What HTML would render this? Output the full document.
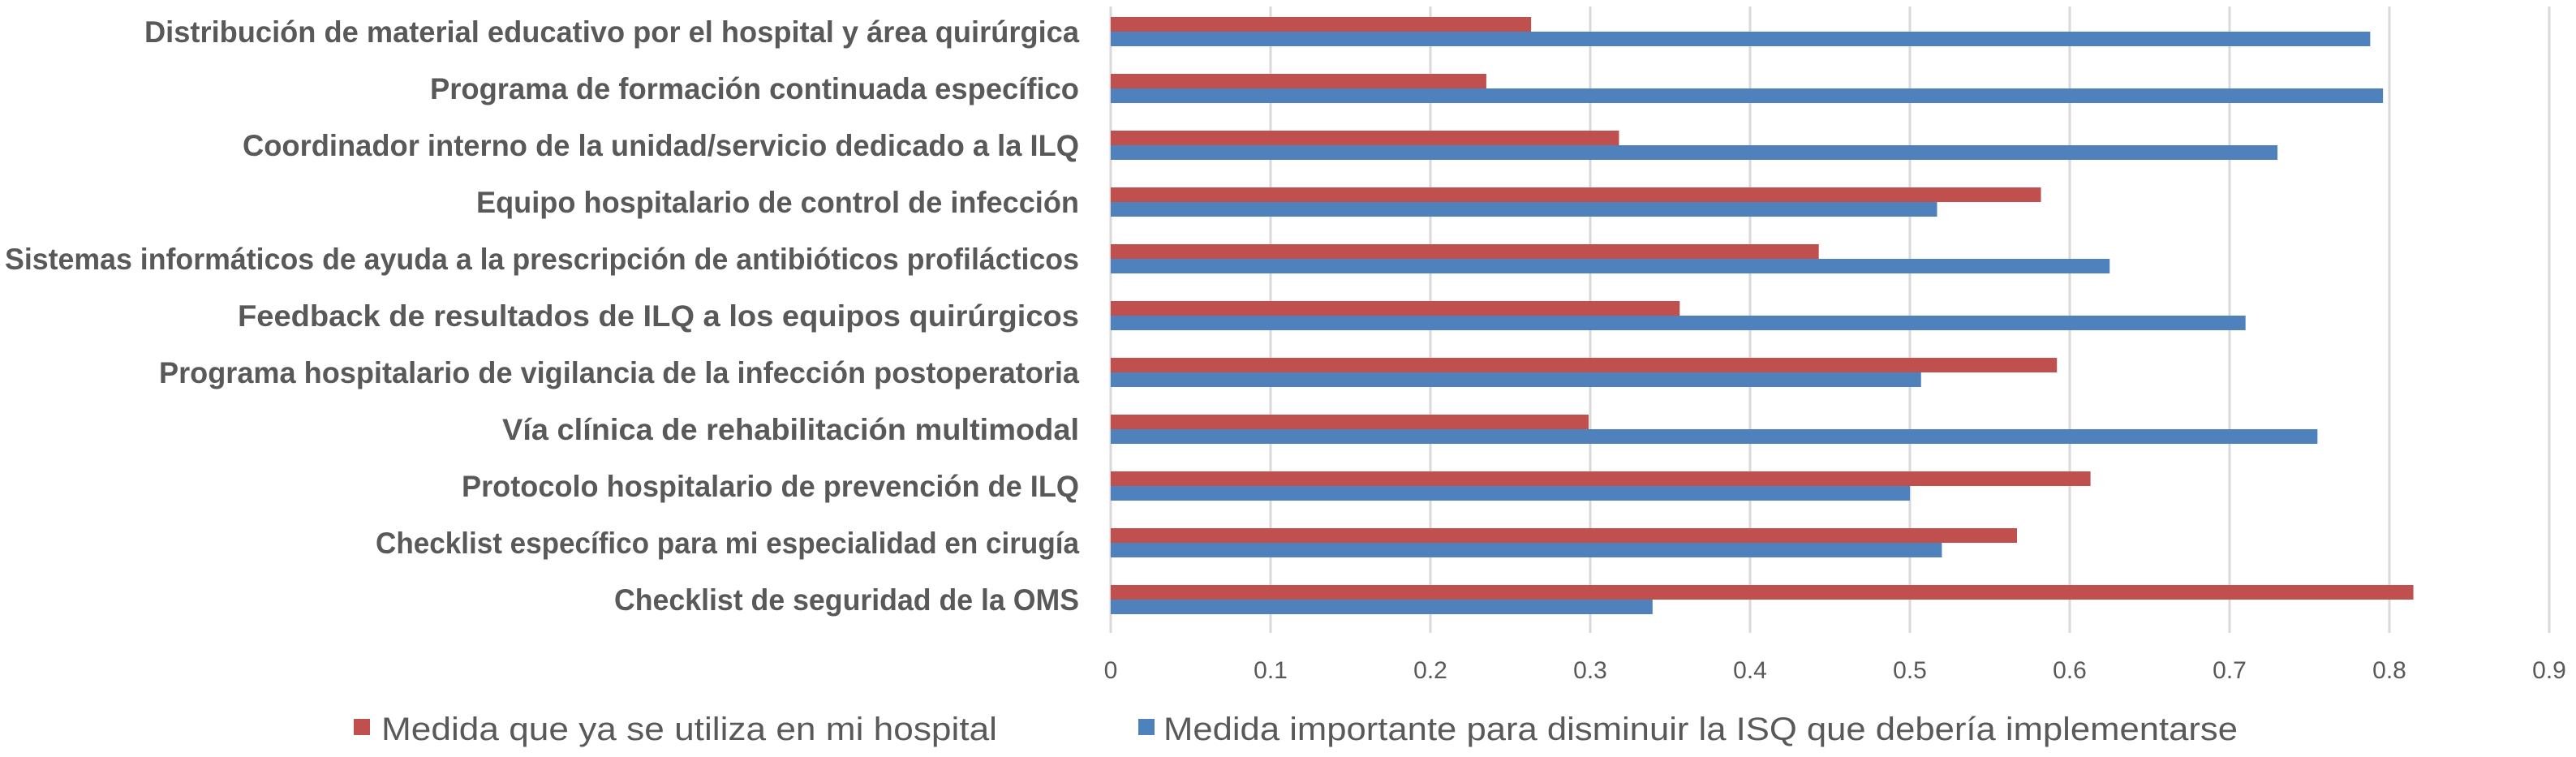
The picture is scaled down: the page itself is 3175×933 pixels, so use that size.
<!DOCTYPE html>
<html><head><meta charset="utf-8"><style>
html,body{margin:0;padding:0;background:#fff;}
svg{display:block;}
</style></head><body>
<svg id="chart" width="3175" height="933" viewBox="0 0 3175 933" xmlns="http://www.w3.org/2000/svg" font-family="'Liberation Sans', sans-serif"></svg>
<script>
const categories = [
"Distribución de material educativo por el hospital y área quirúrgica",
"Programa de formación continuada específico",
"Coordinador interno de la unidad/servicio dedicado a la ILQ",
"Equipo hospitalario de control de infección",
"Sistemas informáticos de ayuda a la prescripción de antibióticos profilácticos",
"Feedback de resultados de ILQ a los equipos quirúrgicos",
"Programa hospitalario de vigilancia de la infección postoperatoria",
"Vía clínica de rehabilitación multimodal",
"Protocolo hospitalario de prevención de ILQ",
"Checklist específico para mi especialidad en cirugía",
"Checklist de seguridad de la OMS"];
const usedValues = [0.263,0.235,0.318,0.582,0.443,0.356,0.592,0.299,0.613,0.567,0.815];
const importantValues = [0.788,0.796,0.730,0.517,0.625,0.710,0.507,0.755,0.500,0.520,0.339];
const tickValues = [0,0.1,0.2,0.3,0.4,0.5,0.6,0.7,0.8,0.9];
const tickLabels = ["0","0.1","0.2","0.3","0.4","0.5","0.6","0.7","0.8","0.9"];
const labelWidths = [1152,800,1031,743,1324,1037,1134,711,761,867,573];
const seriesNames = ["Medida que ya se utiliza en mi hospital","Medida importante para disminuir la ISQ que debería implementarse"];

const NS="http://www.w3.org/2000/svg";
const svg=document.getElementById('chart');
const X0=1369, PER=1970, ROW0=39, ROWH=70, BARH=18, GTOP=8, GBOT=780;
function xScale(v){return X0+v*PER;}
function yCenter(i){return ROW0+i*ROWH;}
function mk(tag,attrs){const e=document.createElementNS(NS,tag);for(const k in attrs)e.setAttribute(k,attrs[k]);svg.appendChild(e);return e;}

tickValues.forEach((v,i)=>{
  const g=mk('line',{x1:xScale(v),x2:xScale(v),y1:GTOP,y2:GBOT,stroke:'#D9D9D9','stroke-width':3});
  
  
  const t=mk('text',{x:xScale(v),y:836,'text-anchor':'middle','font-size':30,fill:'#595959'});
  t.textContent=tickLabels[i];
  
  
});

categories.forEach((c,i)=>{
  const yc=yCenter(i);
  const t=mk('text',{x:1330,y:yc+13,'text-anchor':'end','font-size':37,'font-weight':'bold',fill:'#595959',textLength:labelWidths[i],lengthAdjust:'spacingAndGlyphs'});
  t.textContent=c;
  
  
  const r=mk('rect',{x:X0,y:yc-BARH,width:xScale(usedValues[i])-X0,height:BARH,fill:'#C0504D'});
  
  
  const b=mk('rect',{x:X0,y:yc,width:xScale(importantValues[i])-X0,height:BARH,fill:'#4F81BD'});
  
  
});

const l1=mk('rect',{x:436,y:886,width:20,height:20,fill:'#C0504D'});


const lt1=mk('text',{x:470,y:912,'font-size':40,fill:'#595959',textLength:759,lengthAdjust:'spacingAndGlyphs'});
lt1.textContent=seriesNames[0];


const l2=mk('rect',{x:1403,y:886,width:20,height:20,fill:'#4F81BD'});


const lt2=mk('text',{x:1434,y:912,'font-size':40,fill:'#595959',textLength:1324,lengthAdjust:'spacingAndGlyphs'});
lt2.textContent=seriesNames[1];


</script>
</body></html>
